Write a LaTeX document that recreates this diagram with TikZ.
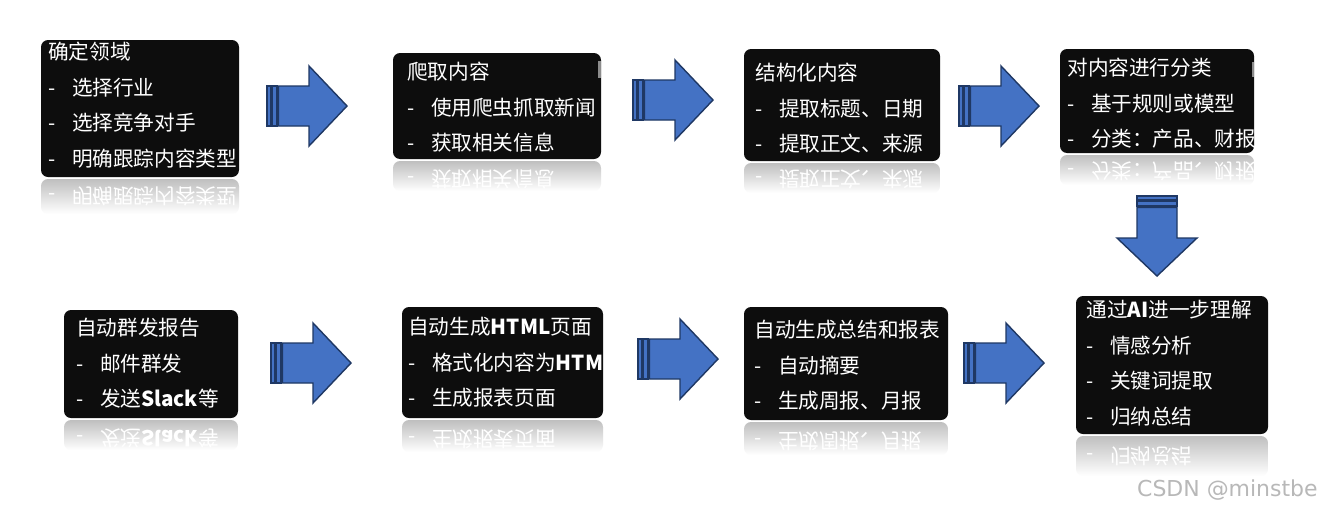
\documentclass[tikz,border=0pt]{standalone}
\usepackage{fontspec}
\usepackage{xcolor}
\usetikzlibrary{fit}
\setmainfont{Noto Sans CJK SC}
\newfontfamily\markfont{DejaVu Sans}

\definecolor{boxblack}{HTML}{0D0D0D}
\definecolor{arrowblue}{HTML}{4472C4}
\definecolor{arrowline}{HTML}{1F3864}

\newcommand{\itemdash}{-\hspace{0.8em}}

\tikzset{
  infobox/.style={fill=boxblack, rounded corners=4pt, inner sep=0pt},
  boxtext/.style={font=\fontsize{11.75}{20.2}\selectfont, text=white, align=left, anchor=north west, inner sep=0pt},
  mirrortext/.style={font=\fontsize{11.75}{20.2}\selectfont, text=white, anchor=west, inner sep=0pt, yscale=-1, transform shape},
  mirrorband/.style={top color=black!25, bottom color=white, rounded corners=4pt},
  arrowfill/.style={draw=arrowline, fill=arrowblue, line width=0.8pt, line join=miter},
  stripearrow/.pic={
    \draw[arrowfill] (0,-20) rectangle (3.5,20);
    \draw[arrowfill] (5,-20) rectangle (10,20);
    \draw[arrowfill] (11.5,-20) -- (42,-20) -- (42,-40) -- (80,0) -- (42,40) -- (42,20) -- (11.5,20) -- cycle;
  }
}

\begin{document}
\begin{tikzpicture}[x=0.02cm, y=-0.02cm]

        \useasboundingbox[fill=white] (0,0) rectangle (1322,515);

        % top row

        \node[infobox, fit={(41,40) (239,177)}] (domain) {};
        \begin{scope}
          \clip[rounded corners=4pt] (domain.south west) rectangle (domain.north east);
          \node[boxtext] (domain-txt) at (48,42) {确定领域\\\itemdash 选择行业\\\itemdash 选择竞争对手\\\itemdash 明确跟踪内容类型};
        \end{scope}
        \begin{scope}
          \clip (41,179) rectangle (239,214);
          \shade[mirrorband] (41,179) rectangle (239,214);
          \node[mirrortext] (domain-mir) at (48,196) {\itemdash 明确跟踪内容类型};
        \end{scope}

        \node[infobox, fit={(393,53) (601,159)}] (crawl) {};
        \begin{scope}
          \clip[rounded corners=4pt] (crawl.south west) rectangle (crawl.north east);
          \node[boxtext] (crawl-txt) at (407,62) {爬取内容\\\itemdash 使用爬虫抓取新闻\\\itemdash 获取相关信息};
          \fill[black!45] (598,61) rectangle (601,78);
        \end{scope}
        \begin{scope}
          \clip (393,161) rectangle (601,191);
          \shade[mirrorband] (393,161) rectangle (601,191);
          \node[mirrortext] (crawl-mir) at (407,179) {\itemdash 获取相关信息};
        \end{scope}

        \node[infobox, fit={(744,49) (940,161)}] (struct) {};
        \begin{scope}
          \clip[rounded corners=4pt] (struct.south west) rectangle (struct.north east);
          \node[boxtext] (struct-txt) at (755,63) {结构化内容\\\itemdash 提取标题、日期\\\itemdash 提取正文、来源};
        \end{scope}
        \begin{scope}
          \clip (744,163) rectangle (940,193);
          \shade[mirrorband] (744,163) rectangle (940,193);
          \node[mirrortext] (struct-mir) at (755,179) {\itemdash 提取正文、来源};
        \end{scope}

        \node[infobox, fit={(1060,49) (1254,153)}] (classify) {};
        \begin{scope}
          \clip[rounded corners=4pt] (classify.south west) rectangle (classify.north east);
          \node[boxtext] (classify-txt) at (1067,58) {对内容进行分类\\\itemdash 基于规则或模型\\\itemdash 分类：产品、财报};
          \fill[black!45] (1252,62) rectangle (1255,77);
        \end{scope}
        \begin{scope}
          \clip (1060,155) rectangle (1254,185);
          \shade[mirrorband] (1060,155) rectangle (1254,185);
          \node[mirrortext] (classify-mir) at (1067,171) {\itemdash 分类：产品、财报};
        \end{scope}

        % bottom row

        \node[infobox, fit={(64,310) (238,418)}] (mail) {};
        \begin{scope}
          \clip[rounded corners=4pt] (mail.south west) rectangle (mail.north east);
          \node[boxtext] (mail-txt) at (76,318) {自动群发报告\\\itemdash 邮件群发\\\itemdash 发送\textbf{Slack}等};
        \end{scope}
        \begin{scope}
          \clip (64,420) rectangle (238,450);
          \shade[mirrorband] (64,420) rectangle (238,450);
          \node[mirrortext] (mail-mir) at (76,438) {\itemdash 发送\textbf{Slack}等};
        \end{scope}

        \node[infobox, fit={(402,307) (603,418)}] (html) {};
        \begin{scope}
          \clip[rounded corners=4pt] (html.south west) rectangle (html.north east);
          \node[boxtext] (html-txt) at (408,317) {自动生成\textbf{HTML}页面\\\itemdash 格式化内容为\textbf{HTML}\\\itemdash 生成报表页面};
        \end{scope}
        \begin{scope}
          \clip (402,420) rectangle (603,452);
          \shade[mirrorband] (402,420) rectangle (603,452);
          \node[mirrortext] (html-mir) at (408,439) {\itemdash 生成报表页面};
        \end{scope}

        \node[infobox, fit={(744,307) (948,420)}] (report) {};
        \begin{scope}
          \clip[rounded corners=4pt] (report.south west) rectangle (report.north east);
          \node[boxtext] (report-txt) at (754,320) {自动生成总结和报表\\\itemdash 自动摘要\\\itemdash 生成周报、月报};
        \end{scope}
        \begin{scope}
          \clip (744,422) rectangle (948,455);
          \shade[mirrorband] (744,422) rectangle (948,455);
          \node[mirrortext] (report-mir) at (754,441) {\itemdash 生成周报、月报};
        \end{scope}

        \node[infobox, fit={(1076,296) (1268,434)}] (ai) {};
        \begin{scope}
          \clip[rounded corners=4pt] (ai.south west) rectangle (ai.north east);
          \node[boxtext] (ai-txt) at (1086,300) {通过\textbf{AI}进一步理解\\\itemdash 情感分析\\\itemdash 关键词提取\\\itemdash 归纳总结};
        \end{scope}
        \begin{scope}
          \clip (1076,436) rectangle (1268,476);
          \shade[mirrorband] (1076,436) rectangle (1268,476);
          \node[mirrortext] (ai-mir) at (1086,456) {\itemdash 归纳总结};
        \end{scope}

        % arrows

        \pic at (267,106) {stripearrow};
        \pic at (633,100) {stripearrow};
        \pic at (959,106) {stripearrow};
        \pic[rotate=-90] at (1157,196) {stripearrow};
        \pic at (271,363) {stripearrow};
        \pic at (638,359) {stripearrow};
        \pic at (964,363) {stripearrow};

        \node[font=\markfont\fontsize{12.5}{14}\selectfont, text=black!28, anchor=east, inner sep=0pt] (mark) at (1318,490) {CSDN @minstbe};

    \end{tikzpicture}
\end{document}
